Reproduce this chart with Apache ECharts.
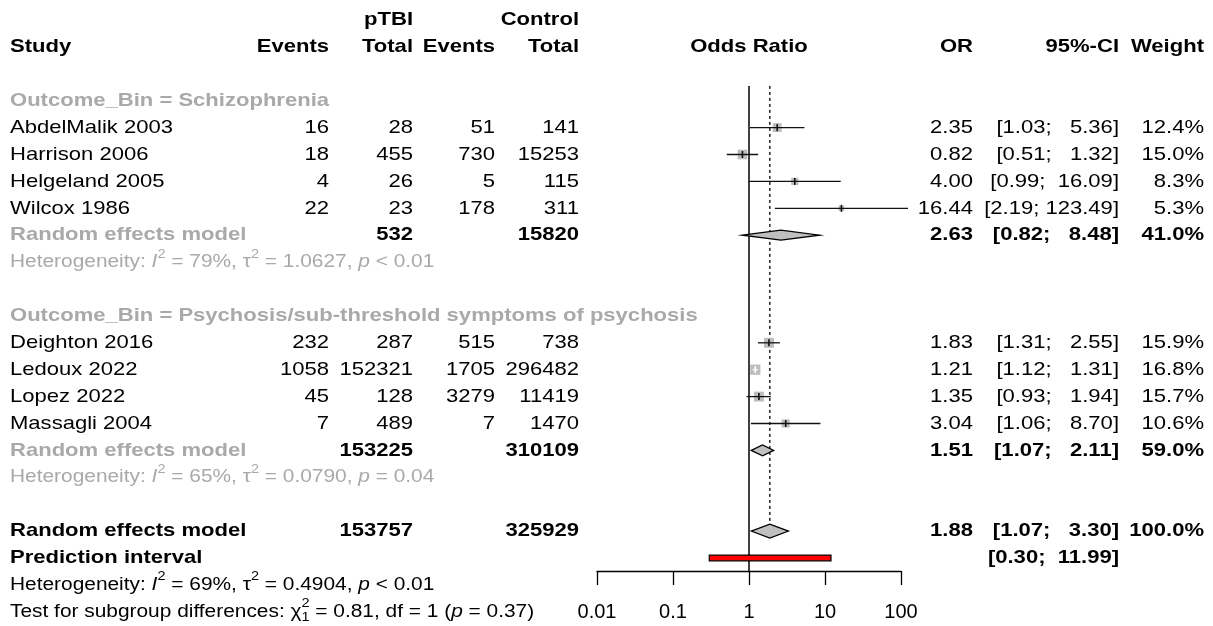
<!DOCTYPE html>
<html>
<head>
<meta charset="utf-8">
<script src="https://cdn.jsdelivr.net/npm/echarts@6/dist/echarts.min.js"></script>
<style>
  html, body { margin: 0; padding: 0; background: #fff; }
  #chart { width: 1213px; height: 626px; }
</style>
</head>
<body>
<div id="chart"></div>
<script>
// ---------- study-level data ----------
const studies   = ['AbdelMalik 2003', 'Harrison 2006', 'Helgeland 2005', 'Wilcox 1986',
                   'Deighton 2016', 'Ledoux 2022', 'Lopez 2022', 'Massagli 2004'];
const subgroupOf = [0, 0, 0, 0, 1, 1, 1, 1];
const eventsT   = [16, 18, 4, 22, 232, 1058, 45, 7];
const totalT    = [28, 455, 26, 23, 287, 152321, 128, 489];
const eventsC   = [51, 730, 5, 178, 515, 1705, 3279, 7];
const totalC    = [141, 15253, 115, 311, 738, 296482, 11419, 1470];
const oddsRatio = [2.35, 0.82, 4.00, 16.44, 1.83, 1.21, 1.35, 3.04];
const ciLower   = [1.03, 0.51, 0.99, 2.19, 1.31, 1.12, 0.93, 1.06];
const ciUpper   = [5.36, 1.32, 16.09, 123.49, 2.55, 1.31, 1.94, 8.70];
const weights   = [12.4, 15.0, 8.3, 5.3, 15.9, 16.8, 15.7, 10.6];

// ---------- subgroup pooled estimates ----------
const subgroupNames = ['Schizophrenia', 'Psychosis/sub-threshold symptoms of psychosis'];
const pooledOR      = [2.63, 1.51];
const pooledLower   = [0.82, 1.07];
const pooledUpper   = [8.48, 2.11];
const pooledWeight  = [41.0, 59.0];
const pooledTotalT  = [532, 153225];
const pooledTotalC  = [15820, 310109];

// ---------- overall estimate ----------
const overallOR = 1.88, overallLower = 1.07, overallUpper = 3.30, overallWeight = 100.0;
const overallTotalT = 153757, overallTotalC = 325929;
const predLower = 0.30, predUpper = 11.99;

// ---------- heterogeneity statistics (subgroup 1, subgroup 2, overall) ----------
const hetI2   = ['79%', '65%', '69%'];
const hetTau2 = ['1.0627', '0.0790', '0.4904'];
const hetP    = ['< 0.01', '= 0.04', '< 0.01'];
const testChi2 = '0.81', testDf = '1', testP = '0.37';

// ---------- axis ----------
const axisTicks = [0.01, 0.1, 1, 10, 100];

// ---------- row layout (row index, top to bottom) ----------
const studyRow   = [4, 5, 6, 7, 12, 13, 14, 15];
const headerRow  = [3, 11];
const pooledRow  = [8, 16];
const hetRow     = [9, 17];
const overallRow = 19, predRow = 20, overallHetRow = 21, testRow = 22;
const refTopRow = 2.45, refBottomRow = 20.48, dashBottomRow = 18.72;

// ---------- text helpers ----------
const FS = 19, FS_HET = 18, FS_SCRIPT = 12.5, SX = 1.16;
const FAMILY = '"Liberation Sans", Arial, sans-serif';
const GREY = '#a9a9a9';
const X_STUDY = 10, X_EVT = 329, X_TOT = 413, X_CEVT = 495, X_CTOT = 579;
const X_OR = 973, X_CI = 1119, X_W = 1204, X_MID = 749;

const measureCtx = document.createElement('canvas').getContext('2d');
function measure(t, size, bold, italic) {
  measureCtx.font = (italic ? 'italic ' : '') + (bold ? 'bold ' : '') + size + 'px ' + FAMILY;
  return measureCtx.measureText(t).width * SX;
}
function fmt2(v) { return v.toFixed(2); }
function padLeft(s, n) { while (s.length < n) s = ' ' + s; return s; }
function ciText(lo, hi) { return '[' + fmt2(lo) + '; ' + padLeft(fmt2(hi), 6) + ']'; }

const cells = [];
function cell(k, x, text, align, bold, color) {
  cells.push({ k, x, text: String(text), align, bold: !!bold, color: color || '#000' });
}
function richCell(k, x, segs, color) {
  cells.push({ k, x, segs, color });
}

// column headers
cell(0, X_TOT, 'pTBI', 'right', true);
cell(0, X_CTOT, 'Control', 'right', true);
cell(1, X_STUDY, 'Study', 'left', true);
cell(1, X_EVT, 'Events', 'right', true);
cell(1, X_TOT, 'Total', 'right', true);
cell(1, X_CEVT, 'Events', 'right', true);
cell(1, X_CTOT, 'Total', 'right', true);
cell(1, X_MID, 'Odds Ratio', 'center', true);
cell(1, X_OR, 'OR', 'right', true);
cell(1, X_CI, '95%-CI', 'right', true);
cell(1, X_W, 'Weight', 'right', true);

function hetSegs(i) {
  return [
    { t: 'Heterogeneity: ' }, { t: 'I', it: true }, { t: '2', sup: true },
    { t: ' = ' + hetI2[i] + ', ' }, { t: '\u03c4' }, { t: '2', sup: true },
    { t: ' = ' + hetTau2[i] + ', ' }, { t: 'p', it: true }, { t: ' ' + hetP[i] }
  ];
}

for (let g = 0; g < 2; g++) {
  cell(headerRow[g], X_STUDY, 'Outcome_Bin = ' + subgroupNames[g], 'left', true, GREY);
  studies.forEach((s, i) => {
    if (subgroupOf[i] !== g) return;
    const k = studyRow[i];
    cell(k, X_STUDY, s, 'left');
    cell(k, X_EVT, eventsT[i], 'right');
    cell(k, X_TOT, totalT[i], 'right');
    cell(k, X_CEVT, eventsC[i], 'right');
    cell(k, X_CTOT, totalC[i], 'right');
    cell(k, X_OR, fmt2(oddsRatio[i]), 'right');
    cell(k, X_CI, ciText(ciLower[i], ciUpper[i]), 'right');
    cell(k, X_W, weights[i].toFixed(1) + '%', 'right');
  });
  const k = pooledRow[g];
  cell(k, X_STUDY, 'Random effects model', 'left', true, GREY);
  cell(k, X_TOT, pooledTotalT[g], 'right', true);
  cell(k, X_CTOT, pooledTotalC[g], 'right', true);
  cell(k, X_OR, fmt2(pooledOR[g]), 'right', true);
  cell(k, X_CI, ciText(pooledLower[g], pooledUpper[g]), 'right', true);
  cell(k, X_W, pooledWeight[g].toFixed(1) + '%', 'right', true);
  richCell(hetRow[g], X_STUDY, hetSegs(g), GREY);
}

cell(overallRow, X_STUDY, 'Random effects model', 'left', true);
cell(overallRow, X_TOT, overallTotalT, 'right', true);
cell(overallRow, X_CTOT, overallTotalC, 'right', true);
cell(overallRow, X_OR, fmt2(overallOR), 'right', true);
cell(overallRow, X_CI, ciText(overallLower, overallUpper), 'right', true);
cell(overallRow, X_W, overallWeight.toFixed(1) + '%', 'right', true);
cell(predRow, X_STUDY, 'Prediction interval', 'left', true);
cell(predRow, X_CI, ciText(predLower, predUpper), 'right', true);
richCell(overallHetRow, X_STUDY, hetSegs(2), '#000');
richCell(testRow, X_STUDY, [
  { t: 'Test for subgroup differences: ' }, { t: '\u03c7' },
  { t: '2', sup: true, stack: true }, { t: '1', sub: true },
  { t: ' = ' + testChi2 + ', df = ' + testDf + ' (' }, { t: 'p', it: true }, { t: ' = ' + testP + ')' }
], '#000');

function textEl(x, y, text, o) {
  return {
    type: 'text', x: x, y: y, scaleX: SX, silent: true,
    style: {
      text: text, x: 0, y: 0,
      align: o.align || 'left', verticalAlign: 'middle',
      fill: o.color || '#000',
      fontSize: o.size || FS, fontFamily: FAMILY,
      fontWeight: o.bold ? 'bold' : 'normal',
      fontStyle: o.italic ? 'italic' : 'normal'
    }
  };
}

function renderTable(params, api) {
  const c = cells[params.dataIndex];
  const y = api.coord([1, api.value(1)])[1];
  if (!c.segs) {
    return textEl(c.x, y, c.text, { align: c.align, bold: c.bold, color: c.color });
  }
  // statistics lines: slightly smaller type with raised / lowered scripts
  const children = [];
  let x = c.x;
  c.segs.forEach(s => {
    if (s.sup || s.sub) {
      const dy = s.sup ? -8 : 6;
      children.push(textEl(x, y + dy, s.t, { size: FS_SCRIPT, color: c.color }));
      if (!s.stack) x += measure(s.t, FS_SCRIPT, false, false);
    } else {
      children.push(textEl(x, y, s.t, { size: FS_HET, italic: s.it, color: c.color }));
      x += measure(s.t, FS_HET, false, s.it);
    }
  });
  return { type: 'group', children };
}

// ---------- marks ----------
function renderStudy(params, api) {
  const k = api.value(3);
  const [cx, cy] = api.coord([api.value(0), k]);
  const lo = api.coord([api.value(1), k])[0];
  const hi = api.coord([api.value(2), k])[0];
  const side = 2.5 * Math.sqrt(api.value(4));
  const inside = lo >= cx - side / 2 && hi <= cx + side / 2;
  const lc = inside ? '#ffffff' : '#111111';
  return {
    type: 'group', children: [
      { type: 'rect', shape: { x: cx - side / 2, y: cy - side / 2, width: side, height: side }, style: { fill: '#bebebe' } },
      { type: 'line', shape: { x1: lo, y1: cy, x2: hi, y2: cy }, style: { stroke: lc, lineWidth: 1.3 } },
      { type: 'line', shape: { x1: cx, y1: cy - 3.5, x2: cx, y2: cy + 3.5 }, style: { stroke: lc, lineWidth: 1.6 } }
    ]
  };
}

function renderDiamond(params, api) {
  const k = api.value(3), h = api.value(4);
  const [cx, cy] = api.coord([api.value(0), k]);
  const lo = api.coord([api.value(1), k])[0];
  const hi = api.coord([api.value(2), k])[0];
  return {
    type: 'polygon',
    shape: { points: [[lo, cy], [cx, cy - h], [hi, cy], [cx, cy + h]] },
    style: { fill: '#c0c0c0', stroke: '#000', lineWidth: 1.3 }
  };
}

function renderPrediction(params, api) {
  const k = api.value(2);
  const [x1, cy] = api.coord([api.value(0), k]);
  const x2 = api.coord([api.value(1), k])[0];
  return {
    type: 'rect', shape: { x: x1, y: cy - 2.8, width: x2 - x1, height: 5.6 },
    style: { fill: '#ff0000', stroke: '#000', lineWidth: 1.2 }
  };
}

function renderRefLine(params, api) {
  const x = api.coord([api.value(0), api.value(1)])[0];
  const y1 = api.coord([api.value(0), api.value(1)])[1];
  const y2 = api.coord([api.value(0), api.value(2)])[1];
  const dashed = api.value(3) === 1;
  return {
    type: 'line', shape: { x1: x, y1: y1, x2: x, y2: y2 },
    style: dashed ? { stroke: '#000', lineWidth: 1.3, lineDash: [3, 3] }
                  : { stroke: '#000', lineWidth: 1.5 }
  };
}

const studyData = studies.map((s, i) => [oddsRatio[i], ciLower[i], ciUpper[i], studyRow[i], weights[i]]);
const diamondData = [
  [pooledOR[0], pooledLower[0], pooledUpper[0], pooledRow[0], 5],
  [pooledOR[1], pooledLower[1], pooledUpper[1], pooledRow[1], 5.5],
  [overallOR, overallLower, overallUpper, overallRow, 7]
];

const chart = echarts.init(document.getElementById('chart'), null, { renderer: 'canvas' });
chart.setOption({
  animation: false,
  backgroundColor: '#ffffff',
  grid: [
    { left: 597, width: 304, top: 20, height: 591.8 },
    { left: 597, width: 304, top: 480, height: 91 }
  ],
  xAxis: [
    { type: 'log', logBase: 10, min: 0.01, max: 100, gridIndex: 0, show: false },
    {
      type: 'log', logBase: 10, min: 0.01, max: 100, gridIndex: 1, interval: 1,
      axisLine: { show: true, lineStyle: { color: '#000', width: 1.3 } },
      axisTick: { show: true, length: 14, lineStyle: { color: '#000', width: 1.3 } },
      splitLine: { show: false },
      axisLabel: {
        color: '#000', fontSize: 20, fontFamily: FAMILY, margin: 31,
        showMinLabel: true, showMaxLabel: true,
        formatter: v => {
          const e = Math.round(Math.log10(v));
          const t = axisTicks.find(a => Math.round(Math.log10(a)) === e);
          return t === undefined ? '' : String(t);
        }
      }
    }
  ],
  yAxis: [
    { type: 'value', inverse: true, min: 0, max: 22, gridIndex: 0, show: false },
    { type: 'value', min: 0, max: 1, gridIndex: 1, show: false }
  ],
  series: [
    {
      type: 'custom', name: 'reference lines', xAxisIndex: 0, yAxisIndex: 0, clip: false,
      renderItem: renderRefLine,
      data: [[1, refTopRow, refBottomRow, 0], [overallOR, refTopRow, dashBottomRow, 1]]
    },
    {
      type: 'custom', name: 'prediction interval', xAxisIndex: 0, yAxisIndex: 0, clip: false,
      renderItem: renderPrediction, data: [[predLower, predUpper, predRow]]
    },
    {
      type: 'custom', name: 'studies', xAxisIndex: 0, yAxisIndex: 0, clip: false,
      renderItem: renderStudy, data: studyData
    },
    {
      type: 'custom', name: 'pooled', xAxisIndex: 0, yAxisIndex: 0, clip: false,
      renderItem: renderDiamond, data: diamondData
    },
    {
      type: 'custom', name: 'table', xAxisIndex: 0, yAxisIndex: 0, clip: false,
      renderItem: renderTable, data: cells.map(c => [1, c.k])
    }
  ]
});
</script>
</body>
</html>
